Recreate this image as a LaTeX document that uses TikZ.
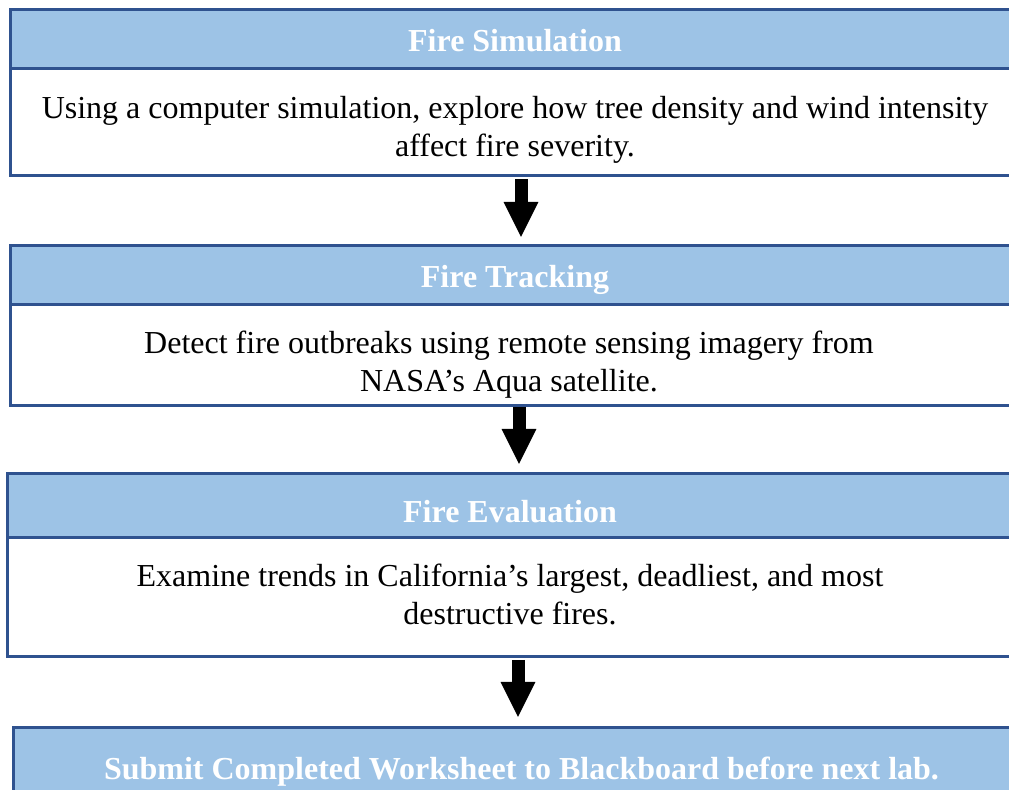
\documentclass[tikz,border=0pt]{standalone}
\usepackage{fontspec}
\setmainfont{Liberation Serif}
\usepackage{tikz}
\usetikzlibrary{arrows.meta,positioning}
\definecolor{headBlue}{RGB}{157,195,230}
\definecolor{edgeBlue}{RGB}{47,82,143}
\tikzset{
     headNode/.style =
        { rectangle
        , draw=edgeBlue
        , line width=1.5pt
        , fill=headBlue
        , text=white
        , font=\fontsize{16}{19}\selectfont\bfseries
        , inner sep=0pt
        , outer sep=0pt
        , text height=0.68em+5.5pt
        , text depth=0pt
        },
     bodyNode/.style =
        { rectangle
        , draw=edgeBlue
        , line width=1.5pt
        , fill=white
        , align=center
        , font=\fontsize{16}{19}\selectfont
        , inner sep=0pt
        , outer sep=0pt
        , text depth=0pt
        },
     flowArrow/.style =
        { line width=6.5pt
        , -{Triangle[width=16pt,length=18pt]}
        }
}

\begin{document}
\begin{tikzpicture}
            [ x=0.5pt
            , y=-0.5pt
            ]
            \fill[white] (0,0) rectangle (1009,790);
            \useasboundingbox (0,0) rectangle (1009,790);

            \node[headNode, minimum width=505pt, minimum height=29.5pt, anchor=north west]
                (simHead) at (10,10) {Fire Simulation};
            \node[bodyNode, minimum width=505pt, minimum height=53.5pt, text height=34.5pt, below=0pt of simHead]
                (simBody) {Using a computer simulation, explore how tree density and wind intensity\\affect fire severity.};

            \node[headNode, minimum width=505pt, minimum height=29.5pt, anchor=north west]
                (trackHead) at (10,246) {Fire Tracking};
            \node[bodyNode, minimum width=505pt, minimum height=50.5pt, text height=36.5pt, below=0pt of trackHead]
                (trackBody) {\hspace*{-6pt}Detect fire outbreaks using remote sensing imagery from\\\hspace*{-6pt}NASA's Aqua satellite.};

            \node[headNode, minimum width=503pt, minimum height=32pt, text height=0.68em+10pt, anchor=north west]
                (evalHead) at (7,474) {Fire Evaluation};
            \node[bodyNode, minimum width=503pt, minimum height=59.5pt, text height=27pt, below=0pt of evalHead]
                (evalBody) {Examine trends in California's largest, deadliest, and most\\destructive fires.};

            \node[headNode, minimum width=508.5pt, minimum height=39pt, anchor=north west]
                (submitHead) at (13,728) {Submit Completed Worksheet to Blackboard before next lab.};

            % arrows between the steps
            \draw[flowArrow, shorten <=1.5pt, shorten >=4pt]
                ([xshift=3pt]simBody.south) -- ([xshift=3pt]simBody.south |- trackHead.north);
            \draw[flowArrow, shorten <=0.5pt, shorten >=4.5pt]
                ([xshift=2pt]trackBody.south) -- ([xshift=2pt]trackBody.south |- evalHead.north);
            \draw[flowArrow, shorten <=1.5pt, shorten >=5pt]
                ([xshift=4pt]evalBody.south) -- ([xshift=4pt]evalBody.south |- submitHead.north);
        \end{tikzpicture}
\end{document}
